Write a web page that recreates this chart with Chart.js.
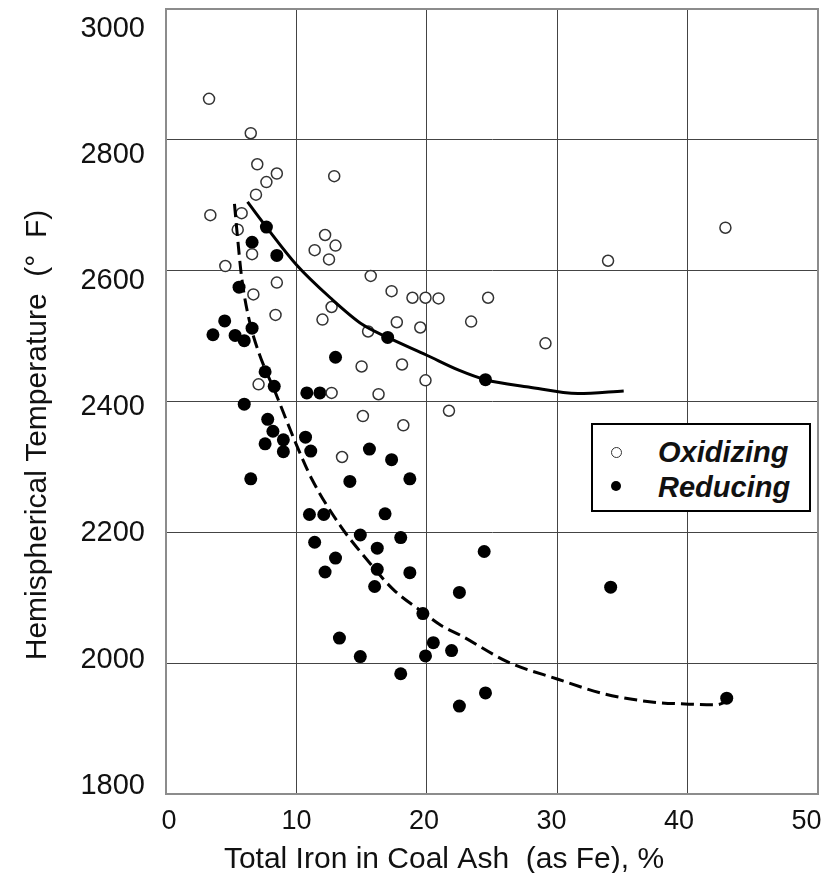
<!DOCTYPE html>
<html>
<head>
<meta charset="utf-8">
<script src="https://cdn.jsdelivr.net/npm/chart.js@4/dist/chart.umd.min.js"></script>
<style>
html,body{margin:0;padding:0;background:#fff;}
#wrap{position:relative;width:828px;height:873px;overflow:hidden;}
#legend{position:absolute;left:591px;top:423px;width:220px;height:89px;box-sizing:border-box;border:2px solid #000;background:#fff;font:italic bold 29px "Liberation Sans",Arial,sans-serif;color:#111;}
.row{position:absolute;left:0;height:29px;line-height:29px;white-space:nowrap;}
.mk{position:absolute;box-sizing:border-box;border-radius:50%;}
.lbl{position:absolute;left:65px;top:0;}
</style>
</head>
<body>
<div id="wrap"><canvas id="c" width="828" height="873"></canvas><div id="legend"></div></div>
<script>
// ---- text ----
const xTitle = 'Total Iron in Coal Ash  (as Fe), %';
const yTitle = 'Hemispherical Temperature  (°  F)';
const seriesNames = ['Oxidizing', 'Reducing'];
const xTickLabels = [0, 10, 20, 30, 40, 50];
const yTickLabels = [1800, 2000, 2200, 2400, 2600, 2800, 3000];

// ---- data: Oxidizing (open circles) ----
const oxX = [3.3, 6.5, 7.0, 8.5, 7.7, 6.9, 12.9, 3.4, 5.8, 5.5, 6.6, 4.55, 8.5, 6.7, 8.4, 12.2, 13.0, 11.4, 12.5, 15.7, 17.3, 18.9, 19.9, 20.9, 12.7, 12.0, 17.7, 15.5, 19.5, 15.0, 18.1, 19.9, 7.1, 12.7, 16.3, 21.7, 15.1, 18.2, 13.5, 42.9, 33.9, 29.1, 23.4, 24.7];
const oxY = [2852, 2800, 2753, 2739, 2726, 2707, 2735, 2676, 2679, 2654, 2617, 2599, 2574, 2556, 2525, 2646, 2630, 2623, 2609, 2584, 2561, 2551, 2551, 2550, 2537, 2518, 2514, 2500, 2506, 2447, 2450, 2426, 2420, 2407, 2405, 2380, 2372, 2358, 2310, 2657, 2607, 2482, 2515, 2551];

// ---- data: Reducing (filled circles) ----
const redX = [7.7, 6.6, 8.5, 5.6, 4.5, 3.6, 5.3, 6.0, 6.6, 7.6, 17.0, 13.0, 8.3, 10.8, 11.8, 6.0, 7.8, 8.2, 9.0, 7.6, 9.0, 10.7, 11.1, 6.5, 15.6, 17.3, 14.1, 18.7, 11.0, 12.1, 16.8, 11.4, 14.9, 18.0, 16.2, 13.0, 12.2, 16.2, 18.7, 16.0, 22.5, 19.7, 13.3, 20.5, 21.9, 19.9, 14.9, 18.0, 22.5, 24.4, 34.1, 24.5, 43.0, 24.5];
const redY = [2658, 2635, 2615, 2567, 2516, 2495, 2494, 2486, 2505, 2439, 2491, 2461, 2417, 2407, 2407, 2390, 2367, 2349, 2336, 2330, 2318, 2340, 2319, 2277, 2322, 2306, 2273, 2277, 2223, 2223, 2224, 2181, 2192, 2188, 2172, 2157, 2136, 2140, 2135, 2114, 2105, 2073, 2036, 2029, 2017, 2009, 2008, 1982, 1933, 2167, 2113, 1953, 1945, 2427];

// ---- trend curves ----
const oxFitX = [6.25, 7.7, 10, 12.6, 15.1, 17.0, 20.0, 22.5, 24.5, 27.8, 31.6, 35.1];
const oxFitY = [2696, 2658, 2601, 2551, 2510, 2491, 2464, 2441, 2427, 2416, 2406, 2410];
const redFitX = [5.25, 5.45, 5.8, 6.35, 7.1, 8.4, 9.95, 11.2, 13.4, 15.4, 17.4, 19.7, 21.1, 22.6, 26.2, 30.0, 33.7, 37.4, 40.1, 42.2, 43.0];
const redFitY = [2693, 2650, 2582, 2520, 2469, 2407, 2331, 2276, 2205, 2155, 2110, 2075, 2055, 2040, 2000, 1974, 1951, 1939, 1936, 1935, 1940];

const toPts = (xs, ys) => xs.map((x, i) => ({x: x, y: ys[i]}));

const FONT = '"Liberation Sans", Arial, sans-serif';
const TEXT = '#111';
const GRID = '#444';
const FRAME = '#8c8c8c';
const X_MIN = 0, X_MAX = 50, Y_MIN = 1800, Y_MAX = 2988;

function zeroPad(s) { s.paddingLeft = 0; s.paddingRight = 0; s.paddingTop = 0; s.paddingBottom = 0; }

const axisTitles = {
  id: 'axisTitles',
  afterDraw(chart, args, o) {
    const ctx = chart.ctx;
    ctx.save();
    ctx.fillStyle = o.color;
    ctx.font = o.font;
    ctx.textAlign = 'center';
    ctx.textBaseline = 'alphabetic';
    ctx.fillText(xTitle, o.xCenter, o.xBaseline);
    ctx.translate(o.yBaseline, o.yCenter);
    ctx.rotate(-Math.PI / 2);
    ctx.fillText(yTitle, 0, 0);
    ctx.restore();
  }
};

new Chart(document.getElementById('c'), {
  type: 'scatter',
  data: {
    datasets: [
      { label: seriesNames[0] + ' trend', data: toPts(oxFitX, oxFitY), showLine: true, pointRadius: 0,
        borderColor: '#000', borderWidth: 3, cubicInterpolationMode: 'monotone', order: 0,
        xAxisID: 'x', yAxisID: 'y' },
      { label: seriesNames[1] + ' trend', data: toPts(redFitX, redFitY), showLine: true, pointRadius: 0,
        borderColor: '#000', borderWidth: 3, borderDash: [13, 6], cubicInterpolationMode: 'monotone', order: 0,
        xAxisID: 'x', yAxisID: 'y' },
      { label: seriesNames[0], data: toPts(oxX, oxY), pointRadius: 5.5, pointBorderWidth: 1.5,
        pointBorderColor: '#333', pointBackgroundColor: '#fff', borderColor: '#333', backgroundColor: '#fff',
        order: 1, xAxisID: 'x', yAxisID: 'y' },
      { label: seriesNames[1], data: toPts(redX, redY), pointRadius: 6.5, pointBorderWidth: 0,
        pointBackgroundColor: '#000', backgroundColor: '#000', borderColor: '#000',
        order: 1, xAxisID: 'x', yAxisID: 'y' }
    ]
  },
  options: {
    responsive: false,
    animation: false,
    devicePixelRatio: 1,
    layout: { padding: { left: 0, right: 10, top: 9, bottom: 0 }, autoPadding: false },
    plugins: {
      legend: { display: false },
      tooltip: { enabled: false },
      axisTitles: { color: TEXT, font: '30px ' + FONT, xCenter: 444, xBaseline: 868, yCenter: 435, yBaseline: 46 }
    },
    scales: {
      x: {
        type: 'linear', position: 'bottom', min: X_MIN, max: X_MAX,
        ticks: { display: false, stepSize: 10 },
        grid: { drawTicks: false, lineWidth: 1,
          color: c => (c.tick && (c.tick.value === X_MIN || c.tick.value === X_MAX)) ? 'rgba(0,0,0,0)' : GRID },
        border: { display: true, color: FRAME, width: 2 },
        afterFit: s => { s.height = 0; zeroPad(s); }
      },
      y: {
        type: 'linear', position: 'left', min: Y_MIN, max: Y_MAX,
        ticks: { display: false, stepSize: 200, includeBounds: false },
        grid: { drawTicks: false, lineWidth: 1,
          color: c => (c.tick && (c.tick.value === Y_MIN || c.tick.value === Y_MAX)) ? 'rgba(0,0,0,0)' : GRID },
        border: { display: true, color: FRAME, width: 2 },
        afterFit: s => { s.width = 0; zeroPad(s); }
      },
      xt: {
        type: 'linear', position: 'top', min: X_MIN, max: X_MAX,
        ticks: { display: false }, grid: { display: false, drawTicks: false },
        border: { display: true, color: FRAME, width: 2 },
        afterFit: s => { s.height = 0; zeroPad(s); }
      },
      yr: {
        type: 'linear', position: 'right', min: Y_MIN, max: Y_MAX,
        ticks: { display: false }, grid: { display: false, drawTicks: false },
        border: { display: true, color: FRAME, width: 2 },
        afterFit: s => { s.width = 0; zeroPad(s); }
      },
      xl: {
        type: 'linear', position: 'bottom', min: -0.235, max: 50.9,
        grid: { display: false, drawTicks: false },
        border: { display: false },
        ticks: { autoSkip: false, padding: 11, color: TEXT, font: { family: FONT, size: 27 },
          callback: v => String(v) },
        afterBuildTicks: s => { s.ticks = xTickLabels.map(v => ({value: v})); },
        afterFit: s => { s.height = 79; zeroPad(s); }
      },
      yl: {
        type: 'linear', position: 'left', min: 1787, max: 3031,
        grid: { display: false, drawTicks: false },
        border: { display: false },
        ticks: { autoSkip: false, padding: 21, color: TEXT, font: { family: FONT, size: 29 },
          callback: v => String(v) },
        afterBuildTicks: s => { s.ticks = yTickLabels.map(v => ({value: v})); },
        afterFit: s => { s.width = 166; zeroPad(s); }
      }
    }
  },
  plugins: [axisTitles]
});

// ---- legend (HTML) ----
const legendStyles = [
  { d: 11, bw: 1.5, bc: '#333', fill: '#fff', cy: 27, rowTop: 12.5 },
  { d: 10, bw: 0, bc: '#000', fill: '#000', cy: 61, rowTop: 47.5 }
];
const lg = document.getElementById('legend');
seriesNames.forEach((name, i) => {
  const st = legendStyles[i];
  const mk = document.createElement('div');
  mk.className = 'mk';
  mk.style.width = st.d + 'px'; mk.style.height = st.d + 'px';
  mk.style.left = (23 - st.d / 2) + 'px'; mk.style.top = (st.cy - st.d / 2) + 'px';
  mk.style.border = st.bw ? (st.bw + 'px solid ' + st.bc) : 'none';
  mk.style.background = st.fill;
  lg.appendChild(mk);
  const row = document.createElement('div');
  row.className = 'row';
  row.style.top = st.rowTop + 'px';
  const t = document.createElement('span');
  t.className = 'lbl';
  t.textContent = name;
  row.appendChild(t);
  lg.appendChild(row);
});
</script>
</body>
</html>
